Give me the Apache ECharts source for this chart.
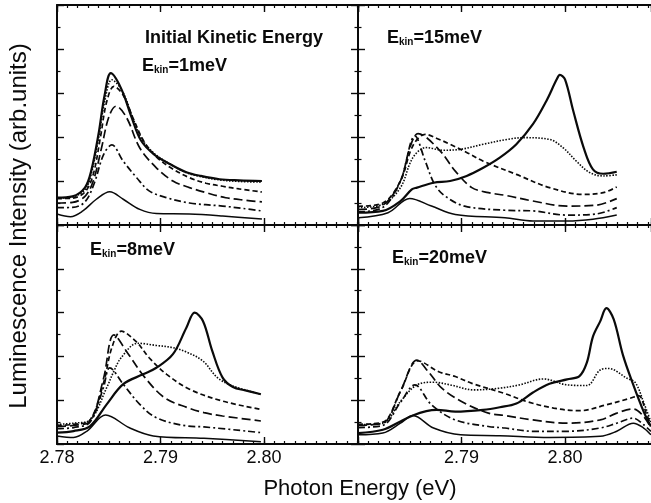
<!DOCTYPE html>
<html><head><meta charset="utf-8">
<script src="https://cdn.jsdelivr.net/npm/echarts@6/dist/echarts.min.js"></script>
<style>html,body{margin:0;padding:0;background:#fff}#c{width:651px;height:503px}</style>
</head><body><div id="c"></div>
<script>
// ---- data (photon energy eV, intensity arb. units) ----
const xTickLabels = ['2.78', '2.79', '2.80'];
const panelTitles = ['1meV', '15meV', '8meV', '20meV'];

// Panel E_kin = 1 meV (top left)
const e1_thin = [[2.7800,0.5],[2.7813,0.38],[2.7825,0.64],[2.7838,1.17],[2.7851,1.51],[2.7864,1.17],[2.7880,0.71],[2.7896,0.52],[2.7928,0.5],[2.7960,0.41],[2.7998,0.27]];
const e1_dashdot = [[2.7800,0.79],[2.7815,0.8],[2.7827,1.05],[2.7836,1.9],[2.7845,3.2],[2.7853,3.64],[2.7864,2.9],[2.7877,2.15],[2.7889,1.55],[2.7906,1.24],[2.7928,1.0],[2.7960,0.86],[2.7980,0.75],[2.7998,0.64]];
const e1_long = [[2.7800,1.0],[2.7815,1.03],[2.7827,1.3],[2.7835,2.0],[2.7843,3.5],[2.7850,4.9],[2.7857,5.4],[2.7867,4.9],[2.7880,3.5],[2.7896,2.6],[2.7912,2.0],[2.7928,1.7],[2.7944,1.47],[2.7963,1.24],[2.7983,1.12],[2.7998,1.05]];
const e1_short = [[2.7800,1.2],[2.7815,1.22],[2.7827,1.5],[2.7835,2.3],[2.7842,4.0],[2.7848,5.6],[2.7855,6.3],[2.7864,5.9],[2.7874,4.8],[2.7884,3.8],[2.7896,3.1],[2.7910,2.6],[2.7928,2.15],[2.7944,1.9],[2.7960,1.76],[2.7976,1.64],[2.7998,1.5]];
const e1_dotted = [[2.7800,1.22],[2.7815,1.28],[2.7827,1.6],[2.7833,2.3],[2.7840,3.9],[2.7846,5.6],[2.7853,6.6],[2.7863,6.1],[2.7873,4.9],[2.7882,3.9],[2.7894,3.25],[2.7910,2.75],[2.7925,2.38],[2.7939,2.2],[2.7957,2.05],[2.7976,1.98],[2.7998,1.95]];
const e1_thick = [[2.7800,1.24],[2.7815,1.3],[2.7827,1.7],[2.7833,2.45],[2.7840,4.1],[2.7846,5.9],[2.7852,6.9],[2.7862,6.2],[2.7872,4.9],[2.7881,3.85],[2.7894,3.2],[2.7910,2.75],[2.7925,2.4],[2.7939,2.23],[2.7957,2.08],[2.7976,2.03],[2.7998,2.0]];

// Panel E_kin = 15 meV (top right)
const e15_thin = [[2.7800,0.33],[2.7829,0.56],[2.7850,1.21],[2.7871,0.86],[2.7894,0.48],[2.7942,0.33],[2.7969,0.18],[2.8002,0.18],[2.8027,0.26],[2.8050,0.45]];
const e15_dashdot = [[2.7800,0.6],[2.7824,0.8],[2.7841,2.0],[2.7855,4.05],[2.7865,2.9],[2.7874,1.85],[2.7884,1.32],[2.7903,0.86],[2.7942,0.67],[2.7969,0.64],[2.8002,0.45],[2.8030,0.5],[2.8050,0.79]];
const e15_long = [[2.7800,0.7],[2.7824,0.9],[2.7841,2.0],[2.7850,3.5],[2.7858,4.15],[2.7878,3.44],[2.7894,2.45],[2.7910,1.7],[2.7926,1.47],[2.7942,1.35],[2.7969,1.09],[2.8002,0.86],[2.8030,0.9],[2.8050,1.2]];
const e15_short = [[2.7800,0.85],[2.7824,1.0],[2.7841,2.0],[2.7853,3.6],[2.7865,4.12],[2.7878,3.9],[2.7889,3.67],[2.7905,3.3],[2.7921,2.9],[2.7953,2.3],[2.7985,1.7],[2.8018,1.39],[2.8037,1.47],[2.8050,1.73]];
const e15_dotted = [[2.7800,0.79],[2.7824,0.94],[2.7841,1.7],[2.7853,3.06],[2.7866,3.52],[2.7882,3.4],[2.7899,3.44],[2.7921,3.67],[2.7944,3.89],[2.7960,3.97],[2.7985,3.89],[2.7998,3.52],[2.8011,2.9],[2.8024,2.38],[2.8037,2.23],[2.8050,2.28]];
const e15_thick = [[2.7800,0.56],[2.7824,0.64],[2.7841,1.09],[2.7852,1.62],[2.7857,1.7],[2.7873,1.92],[2.7889,2.0],[2.7905,2.23],[2.7921,2.6],[2.7937,3.06],[2.7953,3.67],[2.7969,4.58],[2.7982,5.64],[2.7992,6.62],[2.7995,6.82],[2.8000,6.62],[2.8008,5.18],[2.8018,3.52],[2.8027,2.53],[2.8037,2.33],[2.8050,2.42]];

// Panel E_kin = 8 meV (bottom left)
const e8_thin = [[2.7800,0.37],[2.7816,0.3],[2.7829,0.59],[2.7847,1.32],[2.7870,0.74],[2.7893,0.37],[2.7942,0.26],[2.7997,0.1]];
const e8_dashdot = [[2.7800,0.7],[2.7816,0.75],[2.7832,1.0],[2.7845,2.6],[2.7851,3.48],[2.7864,2.73],[2.7880,1.81],[2.7896,1.2],[2.7926,0.82],[2.7942,0.78],[2.7997,0.52]];
const e8_long = [[2.7800,0.8],[2.7816,0.85],[2.7832,1.05],[2.7845,3.0],[2.7855,4.98],[2.7869,4.1],[2.7885,3.03],[2.7904,2.11],[2.7926,1.66],[2.7942,1.43],[2.7960,1.28],[2.7997,1.05]];
const e8_short = [[2.7800,0.85],[2.7816,0.9],[2.7832,1.1],[2.7845,2.8],[2.7853,4.4],[2.7862,5.15],[2.7877,4.65],[2.7889,3.94],[2.7906,3.18],[2.7928,2.5],[2.7960,1.96],[2.7997,1.58]];
const e8_dotted = [[2.7800,0.9],[2.7816,0.95],[2.7832,1.1],[2.7848,2.57],[2.7855,3.33],[2.7862,3.94],[2.7878,4.6],[2.7896,4.5],[2.7912,4.4],[2.7925,4.2],[2.7941,3.79],[2.7955,3.03],[2.7970,2.65],[2.7997,2.27]];
const e8_thick = [[2.7800,0.52],[2.7816,0.59],[2.7832,0.82],[2.7848,1.81],[2.7864,2.73],[2.7883,3.18],[2.7896,3.48],[2.7912,4.1],[2.7925,5.31],[2.7933,6.0],[2.7941,5.62],[2.7950,4.25],[2.7960,3.03],[2.7970,2.6],[2.7982,2.45],[2.7997,2.27]];

// Panel E_kin = 20 meV (bottom right)
const e20_thin = [[2.7800,0.42],[2.7824,0.5],[2.7841,0.95],[2.7853,1.3],[2.7873,0.73],[2.7899,0.42],[2.7937,0.38],[2.7985,0.3],[2.8034,0.35],[2.8050,0.58],[2.8066,0.95],[2.8076,0.73],[2.8083,0.42]];
const e20_dashdot = [[2.7800,0.75],[2.7824,0.85],[2.7841,1.9],[2.7855,2.7],[2.7871,1.79],[2.7894,1.1],[2.7926,0.8],[2.7942,0.73],[2.7969,0.58],[2.8002,0.58],[2.8034,0.73],[2.8050,0.95],[2.8066,1.18],[2.8076,0.88],[2.8083,0.58]];
const e20_long = [[2.7800,0.85],[2.7824,0.95],[2.7841,2.4],[2.7857,3.83],[2.7868,3.3],[2.7881,2.55],[2.7900,1.94],[2.7926,1.41],[2.7942,1.3],[2.7969,1.1],[2.8002,0.95],[2.8034,1.1],[2.8050,1.41],[2.8066,1.6],[2.8076,1.26],[2.8083,0.73]];
const e20_short = [[2.7800,0.9],[2.7824,1.0],[2.7841,2.4],[2.7858,3.8],[2.7878,3.3],[2.7894,3.08],[2.7910,2.77],[2.7942,2.3],[2.7963,1.94],[2.7989,1.64],[2.8014,1.52],[2.8040,1.79],[2.8063,2.09],[2.8071,2.21],[2.8079,1.33],[2.8083,0.88]];
const e20_dotted = [[2.7800,0.88],[2.7824,0.95],[2.7841,1.94],[2.7857,2.7],[2.7873,2.82],[2.7889,2.7],[2.7912,2.47],[2.7937,2.55],[2.7956,2.7],[2.7979,2.97],[2.8002,2.7],[2.8021,2.67],[2.8034,3.38],[2.8042,3.45],[2.8060,3.0],[2.8068,2.8],[2.8076,1.9],[2.8083,1.0]];
const e20_thick = [[2.7800,0.5],[2.7824,0.65],[2.7841,1.03],[2.7853,1.3],[2.7866,1.5],[2.7876,1.56],[2.7894,1.48],[2.7921,1.56],[2.7937,1.68],[2.7953,1.85],[2.7969,2.35],[2.7985,2.75],[2.8002,2.95],[2.8014,3.1],[2.8021,3.7],[2.8027,4.9],[2.8034,5.6],[2.8040,6.2],[2.8047,5.7],[2.8056,4.06],[2.8066,2.7],[2.8076,1.48],[2.8083,0.8]];

const panels = [
  [e1_thin, e1_dashdot, e1_long, e1_short, e1_dotted, e1_thick],
  [e15_thin, e15_dashdot, e15_long, e15_short, e15_dotted, e15_thick],
  [e8_thin, e8_dashdot, e8_long, e8_short, e8_dotted, e8_thick],
  [e20_thin, e20_dashdot, e20_long, e20_short, e20_dotted, e20_thick]
];

// ---- styling ----
const INK = '#0a0a0a';
const FONT = '"Liberation Sans", Arial, Helvetica, sans-serif';
const lineStyles = [
  {width: 1.5, type: 'solid'},
  {width: 1.7, type: [7, 3, 2, 3]},
  {width: 1.7, type: [9, 4]},
  {width: 1.7, type: [5, 3]},
  {width: 1.6, type: [1.5, 1.5]},
  {width: 2.2, type: 'solid'}
];
const grids = [
  {left: 57, top: 5, width: 301, height: 220},
  {left: 358, top: 5, width: 293, height: 220},
  {left: 57, top: 225, width: 301, height: 219},
  {left: 358, top: 225, width: 293, height: 219}
];
const XMIN = 2.78;
const xMax = g => XMIN + grids[g].width / 103.5 * 0.01;

const xAxes = [], yAxes = [], series = [];
for (let g = 0; g < 4; g++) {
  const base = {type: 'value', gridIndex: g, min: XMIN, max: xMax(g), splitLine: {show: false},
    axisLine: {onZero: false, show: false}, axisLabel: {show: false}};
  ['bottom', 'top'].forEach(pos => {
    xAxes.push(Object.assign({}, base, {position: pos, interval: 0.001,
      axisLine: {onZero: false, show: true, lineStyle: {color: INK, width: 2}},
      axisTick: {show: true, inside: true, length: 3, lineStyle: {color: INK, width: 1.2}}}));
    const showLab = pos === 'bottom' && g >= 2;
    xAxes.push(Object.assign({}, base, {position: pos, interval: 0.01,
      axisTick: {show: true, inside: true, length: 7, lineStyle: {color: INK, width: 1.4}},
      axisLabel: {show: showLab, showMaxLabel: false, color: INK, fontSize: 18, fontFamily: FONT, margin: 5,
        formatter: v => {
          const r = Math.round(v * 100) / 100;
          if (Math.abs(v - r) > 1e-6) return '';
          const s = r.toFixed(2);
          if (g === 3 && s === xTickLabels[0]) return '';
          return xTickLabels.indexOf(s) >= 0 ? s : '';
        }}}));
  });
  ['left', 'right'].forEach(pos => {
    const hide = pos === 'right' && (g === 1 || g === 3);
    yAxes.push({type: 'value', gridIndex: g, position: pos, min: 0, max: 10, interval: 2,
      splitLine: {show: false}, axisLabel: {show: false},
      axisLine: {onZero: false, show: !hide, lineStyle: {color: INK, width: 2}},
      axisTick: {show: !hide, inside: true, length: 7, lineStyle: {color: INK, width: 1.4}},
      minorTick: {show: !hide, splitNumber: 2, length: 3.5, lineStyle: {color: INK, width: 1.2}}});
  });
  panels[g].forEach((d, k) => {
    series.push({type: 'line', xAxisIndex: 4 * g, yAxisIndex: 2 * g, data: d,
      showSymbol: false, smooth: 0.35, silent: true,
      lineStyle: {color: INK, width: lineStyles[k].width, type: lineStyles[k].type}});
  });
}

function ekin(label, left, top) {
  return {type: 'text', left: left, top: top, silent: true,
    style: {text: '{a|E}{b|kin}{a|=' + label + '}', fill: INK,
      rich: {a: {font: 'bold 18px ' + FONT, fill: INK, lineHeight: 20, verticalAlign: 'bottom'},
             b: {font: 'bold 10px ' + FONT, fill: INK, lineHeight: 12, verticalAlign: 'bottom'}}}};
}

const option = {
  animation: false,
  backgroundColor: '#fff',
  grid: grids,
  xAxis: xAxes,
  yAxis: yAxes,
  series: series,
  graphic: [
    {type: 'text', left: 145, top: 29, silent: true,
     style: {text: 'Initial Kinetic Energy', font: 'bold 18px ' + FONT, fill: INK}},
    ekin(panelTitles[0], 142, 57),
    ekin(panelTitles[1], 387, 29),
    ekin(panelTitles[2], 90, 241),
    ekin(panelTitles[3], 392, 249),
    {type: 'text', x: 360, y: 489, silent: true,
     style: {text: 'Photon Energy (eV)', font: '22px ' + FONT, fill: INK,
       align: 'center', verticalAlign: 'middle', textAlign: 'center', textVerticalAlign: 'middle'}},
    {type: 'text', x: 19, y: 226, rotation: Math.PI / 2, silent: true,
     style: {text: 'Luminescence Intensity (arb.units)', font: '24px ' + FONT, fill: INK,
       align: 'center', verticalAlign: 'middle', textAlign: 'center', textVerticalAlign: 'middle'}}
  ]
};
echarts.init(document.getElementById('c'), null, {renderer: 'canvas'}).setOption(option);
</script></body></html>
